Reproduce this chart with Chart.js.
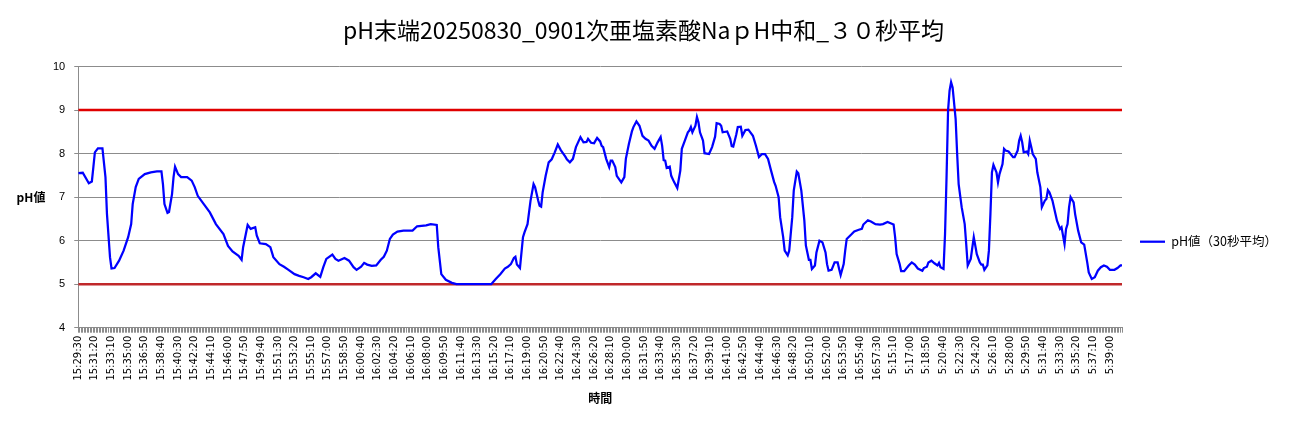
<!DOCTYPE html>
<html>
<head>
<meta charset="utf-8">
<script src="https://cdn.jsdelivr.net/npm/chart.js@4"></script>
<style>
  body { margin: 0; background: #fff; }
  #wrap { width: 1294px; height: 429px; position: relative; }
</style>
</head>
<body>
<div id="wrap"><canvas id="chart"></canvas></div>
<script>
// Tick labels (every 11th row, 10 s data)
const timeTicks = [
  "15:29:30","15:31:20","15:33:10","15:35:00","15:36:50","15:38:40","15:40:30","15:42:20",
  "15:44:10","15:46:00","15:47:50","15:49:40","15:51:30","15:53:20","15:55:10","15:57:00",
  "15:58:50","16:00:40","16:02:30","16:04:20","16:06:10","16:08:00","16:09:50","16:11:40",
  "16:13:30","16:15:20","16:17:10","16:19:00","16:20:50","16:22:40","16:24:30","16:26:20",
  "16:28:10","16:30:00","16:31:50","16:33:40","16:35:30","16:37:20","16:39:10","16:41:00",
  "16:42:50","16:44:40","16:46:30","16:48:20","16:50:10","16:52:00","16:53:50","16:55:40",
  "16:57:30","5:15:10","5:17:00","5:18:50","5:20:40","5:22:30","5:24:20","5:26:10",
  "5:28:00","5:29:50","5:31:40","5:33:30","5:35:20","5:37:10","5:39:00"
];
const tickEvery = 11;
const lastRow = 690;

// pH series: row index and value
const rowIdx = [
  0,3,7,9,10,11,13,16,18,19,21,22,24,27,30,33,35,36,38,40,44,48,52,55,56,57,59,60,62,63,64,66,68,72,75,77,79,83,87,91,96,99,
  102,106,108,109,112,114,117,118,120,124,127,129,133,136,139,143,146,149,152,154,157,160,162,164,168,170,172,176,179,182,184,187,189,191,194,197,
  200,202,204,206,208,211,215,221,224,230,233,237,238,240,243,247,250,258,269,273,276,279,282,284,286,288,289,290,292,294,295,297,299,
  301,302,304,305,306,307,309,311,313,315,317,319,322,323,325,327,329,332,334,336,337,339,341,343,345,346,347,349,351,352,353,355,356,359,361,362,364,366,367,369,371,373,375,377,379,381,383,385,386,387,388,389,391,392,394,396,398,399,
  401,403,404,405,406,408,409,410,411,413,414,417,419,421,422,424,425,426,429,431,432,433,435,436,438,439,441,443,446,448,450,452,454,456,458,460,461,463,464,466,467,469,470,472,473,475,476,478,480,481,483,484,485,487,488,490,492,494,495,496,498,
  500,502,503,504,506,507,508,511,513,516,518,519,522,524,527,530,532,535,537,539,540,541,543,544,546,549,551,553,555,558,559,561,562,564,566,568,569,570,572,573,574,575,576,577,578,580,581,582,584,586,587,588,590,592,594,596,597,598,599,
  601,602,603,604,605,607,608,609,611,612,613,615,618,619,621,622,623,624,625,627,628,629,630,631,633,634,636,637,639,640,641,642,644,646,647,649,650,652,653,654,655,656,658,659,661,663,665,667,668,670,672,674,676,678,680,682,685,687,689,690
];
const phValues = [
  7.55,7.56,7.32,7.36,7.69,8.03,8.12,8.12,7.46,6.61,5.62,5.36,5.37,5.54,5.77,6.08,6.38,6.84,7.23,7.42,7.53,7.57,7.59,7.59,7.30,6.84,6.64,6.66,7.07,7.46,7.70,7.53,7.46,7.46,7.38,7.23,7.03,6.84,6.65,6.38,6.15,5.88,
  5.75,5.65,5.56,5.85,6.36,6.27,6.31,6.12,5.94,5.92,5.85,5.62,5.46,5.40,5.33,5.23,5.19,5.16,5.12,5.16,5.25,5.17,5.39,5.58,5.68,5.58,5.54,5.60,5.54,5.39,5.33,5.40,5.49,5.45,5.42,5.43,
  5.56,5.63,5.77,6.04,6.14,6.21,6.23,6.23,6.33,6.35,6.38,6.36,5.85,5.23,5.10,5.03,5.00,5.00,5.00,5.00,5.12,5.23,5.36,5.40,5.46,5.60,5.63,5.45,5.37,6.08,6.19,6.38,6.92,
  7.30,7.23,6.93,6.80,6.78,7.11,7.49,7.80,7.87,8.03,8.21,8.08,7.93,7.87,7.80,7.88,8.15,8.38,8.26,8.27,8.34,8.25,8.24,8.36,8.28,8.18,8.15,7.88,7.69,7.84,7.84,7.69,7.49,7.34,7.46,7.88,8.22,8.51,8.61,8.74,8.64,8.41,8.34,8.30,8.18,8.11,8.26,8.38,8.18,7.85,7.84,7.67,7.70,7.49,7.34,7.21,7.61,8.11,
  8.30,8.49,8.53,8.61,8.49,8.64,8.84,8.72,8.49,8.30,8.01,7.99,8.15,8.39,8.70,8.68,8.64,8.49,8.51,8.34,8.17,8.16,8.44,8.61,8.62,8.41,8.54,8.55,8.41,8.18,7.92,7.99,7.99,7.88,7.61,7.35,7.26,7.00,6.54,6.08,5.77,5.66,5.77,6.54,7.15,7.59,7.55,7.15,6.46,5.89,5.56,5.56,5.35,5.43,5.73,6.00,5.96,5.73,5.46,5.31,5.33,
  5.50,5.50,5.35,5.21,5.46,5.77,6.04,6.14,6.21,6.25,6.27,6.37,6.47,6.44,6.38,6.37,6.38,6.43,6.40,6.37,6.08,5.69,5.46,5.30,5.30,5.43,5.50,5.45,5.36,5.31,5.37,5.40,5.50,5.54,5.48,5.43,5.49,5.39,5.35,6.15,7.46,8.99,9.45,9.64,9.52,8.80,8.00,7.30,6.77,6.38,5.92,5.43,5.58,6.08,5.69,5.50,5.45,5.45,5.33,
  5.43,5.77,6.61,7.57,7.74,7.57,7.34,7.53,7.76,8.11,8.07,8.05,7.92,7.92,8.07,8.30,8.41,8.26,8.03,8.05,7.99,8.30,8.15,7.99,7.88,7.57,7.23,6.77,6.92,6.96,7.16,7.11,6.92,6.61,6.46,6.27,6.31,5.92,6.27,6.38,6.77,7.00,6.88,6.61,6.23,5.96,5.91,5.50,5.27,5.12,5.16,5.31,5.39,5.43,5.40,5.33,5.33,5.37,5.43,5.43
];

// Control limits
const upperLimit = 9;
const lowerLimit = 5;

const phPoints = rowIdx.map((x, i) => ({ x: x, y: phValues[i] }));

const yTitlePlugin = {
  id: 'yTitle',
  afterDraw(chart) {
    const { ctx, chartArea } = chart;
    ctx.save();
    ctx.font = 'bold 12px "Noto Sans CJK JP"';
    ctx.fillStyle = '#000';
    ctx.textAlign = 'center';
    ctx.textBaseline = 'middle';
    ctx.fillText('pH値', 31, (chartArea.top + chartArea.bottom) / 2);
    ctx.restore();
  }
};

const ctx = document.getElementById('chart');
new Chart(ctx, {
  type: 'line',
  data: {
    datasets: [
      {
        label: 'pH値（30秒平均）',
        data: phPoints,
        borderColor: '#0000ff',
        backgroundColor: '#0000ff',
        borderWidth: 2.25,
        pointRadius: 0,
        tension: 0
      },
      {
        label: '上限',
        data: [{ x: 0, y: upperLimit }, { x: lastRow, y: upperLimit }],
        borderColor: '#e00000',
        borderWidth: 2.5,
        pointRadius: 0
      },
      {
        label: '下限',
        data: [{ x: 0, y: lowerLimit }, { x: lastRow, y: lowerLimit }],
        borderColor: '#c0282a',
        borderWidth: 2.5,
        pointRadius: 0
      }
    ]
  },
  options: {
    responsive: true,
    maintainAspectRatio: false,
    animation: false,
    layout: { padding: { left: 0, right: 7, top: 10, bottom: 23 } },
    plugins: {
      title: {
        display: true,
        text: 'pH末端20250830_0901次亜塩素酸NaｐH中和_３０秒平均',
        color: '#000',
        font: { family: '"Noto Sans CJK JP"', size: 23, weight: 'normal' },
        padding: { top: 6, bottom: 23 }
      },
      legend: {
        position: 'right',
        title: { display: true, text: '', padding: { top: 53, bottom: 0 }, font: { size: 12 } },
        labels: {
          filter: (item) => item.datasetIndex === 0,
          usePointStyle: true,
          pointStyle: 'line',
          pointStyleWidth: 25,
          padding: 18,
          color: '#000',
          font: { family: '"Noto Sans CJK JP"', size: 12.5 }
        }
      },
      tooltip: { enabled: false }
    },
    scales: {
      x: {
        type: 'linear',
        min: 0,
        max: lastRow,
        grid: { drawOnChartArea: false, drawTicks: true, tickLength: 5, color: '#8c8c8c' },
        border: { color: '#8c8c8c' },
        ticks: {
          stepSize: 1,
          autoSkip: false,
          minRotation: 90,
          maxRotation: 90,
          padding: 3,
          color: '#000',
          font: { family: '"DejaVu Sans"', size: 10 },
          callback: (value) => (value % tickEvery === 0 ? timeTicks[value / tickEvery] : '')
        },
        title: {
          display: true,
          text: '時間',
          color: '#000',
          font: { family: '"Noto Sans CJK JP"', size: 12, weight: 'bold' },
          padding: { top: 8, bottom: 0 }
        }
      },
      y: {
        min: 4,
        max: 10,
        // room on the left for the horizontal "pH値" label
        afterFit: (scale) => { scale.width += 44; },
        grid: { color: '#8c8c8c', tickLength: 4 },
        border: { color: '#8c8c8c' },
        ticks: {
          stepSize: 1,
          padding: 9,
          color: '#000',
          font: { family: '"Liberation Sans"', size: 11 }
        }
      }
    }
  },
  plugins: [yTitlePlugin]
});
</script>
</body>
</html>
